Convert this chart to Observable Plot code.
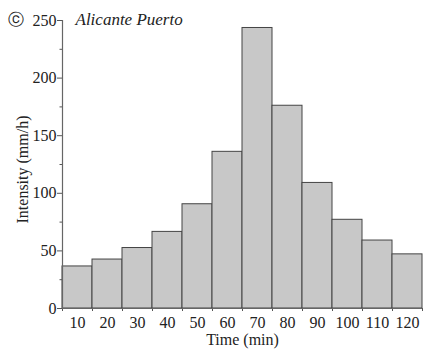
<!DOCTYPE html>
<html><head><meta charset="utf-8">
<script src="https://cdn.jsdelivr.net/npm/d3@7"></script>
<script src="https://cdn.jsdelivr.net/npm/@observablehq/plot@0.6"></script>
<style>
body{margin:0;background:#fff;}
#chart svg{font-family:"Liberation Serif","Times New Roman",serif;}
</style>
</head><body><div id="chart"></div>
<script>
const times = [10,20,30,40,50,60,70,80,90,100,110,120];
const intensity = [36.5,42.5,52.5,66.5,90.5,136,243.5,176,109,77,59,47];
const yTicks = [0,50,100,150,200,250];
const yMinor = [25,75,125,175,225];
const xEdges = [5,15,25,35,45,55,65,75,85,95,105,115,125];
const title = ["Alicante Puerto"];
const panel = ["ⓒ"];

const data = times.map((t,i)=>({t, v: intensity[i]}));
const chart = Plot.plot({
  width: 424, height: 355,
  marginTop: 20, marginBottom: 47, marginLeft: 62, marginRight: 2,
  style: {fontFamily: '"Liberation Serif","Times New Roman",serif', fontSize: "16px", background: "#fff", color: "#222"},
  x: {domain: [5,125], label: null},
  y: {domain: [0,250], label: null},
  marks: [
    Plot.rectY(data, {x1: d=>d.t-5, x2: d=>d.t+5, y: "v", fill: "#c8c8c8", stroke: "#444", strokeWidth: 1}),
    Plot.axisY({ticks: yTicks, tickSize: 5, tickPadding: 1, fontSize: 16, stroke: "#555", color: "#222", label: null}),
    Plot.axisY({ticks: yMinor, tickSize: 2.5, text: null, stroke: "#555", label: null}),
    Plot.axisX({ticks: times, tickSize: 0, tickPadding: 8, fontSize: 16, color: "#222", label: null}),
    Plot.axisX({ticks: xEdges, tickSize: 3, text: null, stroke: "#555", label: null}),
    Plot.ruleX([5], {stroke: "#666", strokeWidth: 1.2}),
    Plot.ruleY([0], {stroke: "#666", strokeWidth: 1.2}),
    Plot.text(title, {frameAnchor: "top-left", dx: 13, dy: -8, text: d=>d, fontSize: 17, fontStyle: "italic", textAnchor: "start", lineAnchor: "top", fill: "#222"}),
    Plot.text(panel, {frameAnchor: "top-left", dx: -55, dy: -7, text: d=>d, fontSize: 16, fontFamily: "DejaVu Sans", textAnchor: "start", lineAnchor: "top", fill: "#222"}),
    Plot.text(["Intensity (mm/h)"], {frameAnchor: "left", dx: -40, dy: 5, rotate: -90, textAnchor: "middle", text: d=>d, fontSize: 16, fill: "#222"}),
    Plot.text(["Time (min)"], {frameAnchor: "bottom", dy: 36, text: d=>d, fontSize: 16, fill: "#222"})
  ]
});
document.getElementById("chart").append(chart);
</script>
</body></html>
